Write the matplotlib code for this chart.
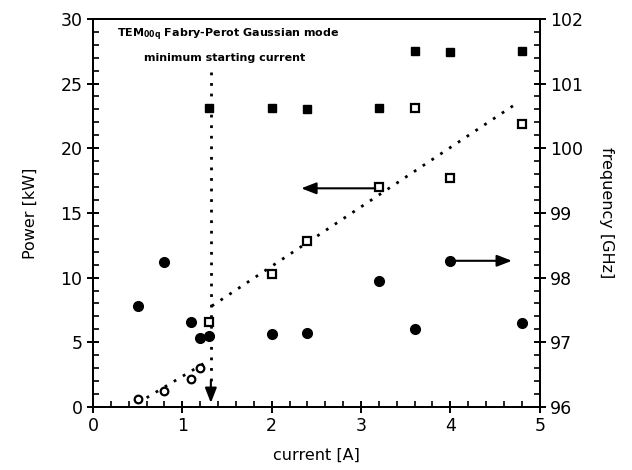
import matplotlib
matplotlib.use("Agg")
import matplotlib.pyplot as plt
from matplotlib.ticker import MultipleLocator

# current [A]
sq_open_x = [1.3, 2.0, 2.4, 3.2, 3.6, 4.0, 4.8]
sq_open_power = [6.6, 10.3, 12.8, 17.0, 23.1, 17.7, 21.9]

circ_open_x = [0.5, 0.8, 1.1, 1.2]
circ_open_power = [0.6, 1.25, 2.15, 3.0]

sq_fill_x = [1.3, 2.0, 2.4, 3.2, 3.6, 4.0, 4.8]
sq_fill_freq = [100.62, 100.62, 100.60, 100.62, 101.50, 101.48, 101.50]

circ_fill_x = [0.5, 0.8, 1.1, 1.2, 1.3, 2.0, 2.4, 3.2, 3.6, 4.0, 4.8]
circ_fill_freq = [97.56, 98.24, 97.32, 97.06, 97.10, 97.13, 97.15, 97.94, 97.20, 98.26, 97.30]

# dotted fit lines (power)
fit_low_x = [0.5, 1.25]
fit_low_power = [0.3, 3.4]
fit_high_x = [1.33, 4.75]
fit_high_power = [7.8, 23.5]

start_current = 1.32

fig = plt.figure(figsize=(6.32, 4.70), dpi=100)
ax = fig.add_axes([0.147, 0.134, 0.707, 0.826])
ax2 = ax.twinx()

dots = (0, (1, 2.8))
head = "-|>,head_length=0.9,head_width=0.35"
ax.plot(fit_low_x, fit_low_power, color="black", lw=2, linestyle=dots)
ax.plot(fit_high_x, fit_high_power, color="black", lw=2, linestyle=dots)
ax.plot(sq_open_x, sq_open_power, "s", ms=6, mfc="white", mec="black", mew=1.6)
ax.plot(circ_open_x, circ_open_power, "o", ms=5.5, mfc="white", mec="black", mew=1.6)

# starting current marker
ax.plot([start_current, start_current], [25.9, 2.0], color="black", lw=2, linestyle=dots)
ax.annotate("", xy=(start_current, 0.1), xytext=(start_current, 2.3),
            arrowprops=dict(arrowstyle=head, color="black", lw=1.5))

# axis arrows
ax.annotate("", xy=(2.3, 16.9), xytext=(3.19, 16.9),
            arrowprops=dict(arrowstyle=head, color="black", lw=1.5))
ax.annotate("", xy=(4.72, 11.3), xytext=(4.0, 11.3),
            arrowprops=dict(arrowstyle=head, color="black", lw=1.5))

ax2.plot(sq_fill_x, sq_fill_freq, "s", ms=6, color="black")
ax2.plot(circ_fill_x, circ_fill_freq, "o", ms=7, color="black")

ax.text(0.27, 28.8, r"TEM$_{\mathregular{00q}}$ Fabry-Perot Gaussian mode",
        fontsize=8, fontweight="bold", va="center", ha="left")
ax.text(0.57, 27.0, "minimum starting current",
        fontsize=8, fontweight="bold", va="center", ha="left")

ax.set_xlim(0, 5)
ax.set_ylim(0, 30)
ax2.set_ylim(96, 102)

ax.xaxis.set_major_locator(MultipleLocator(1))
ax.xaxis.set_minor_locator(MultipleLocator(0.2))
ax.yaxis.set_major_locator(MultipleLocator(5))
ax.yaxis.set_minor_locator(MultipleLocator(1))
ax2.yaxis.set_major_locator(MultipleLocator(1))
ax2.yaxis.set_minor_locator(MultipleLocator(0.2))

for a in (ax, ax2):
    for s in a.spines.values():
        s.set_linewidth(1.4)
    a.tick_params(which="major", direction="inout", length=8, width=1.4, labelsize=12.5)
    a.tick_params(which="minor", direction="in", length=4, width=1.2)
ax.tick_params(axis="y", which="both", right=False)
ax.tick_params(axis="x", which="both", top=False)

ax.set_xlabel("current [A]", fontsize=11.5)
ax.set_ylabel("Power [kW]", fontsize=11.5, labelpad=16)
ax2.set_ylabel("frequency [GHz]", fontsize=11.5, rotation=270, labelpad=22)
ax.xaxis.set_label_coords(0.5, -0.105)

fig.savefig("out.png", dpi=100)
